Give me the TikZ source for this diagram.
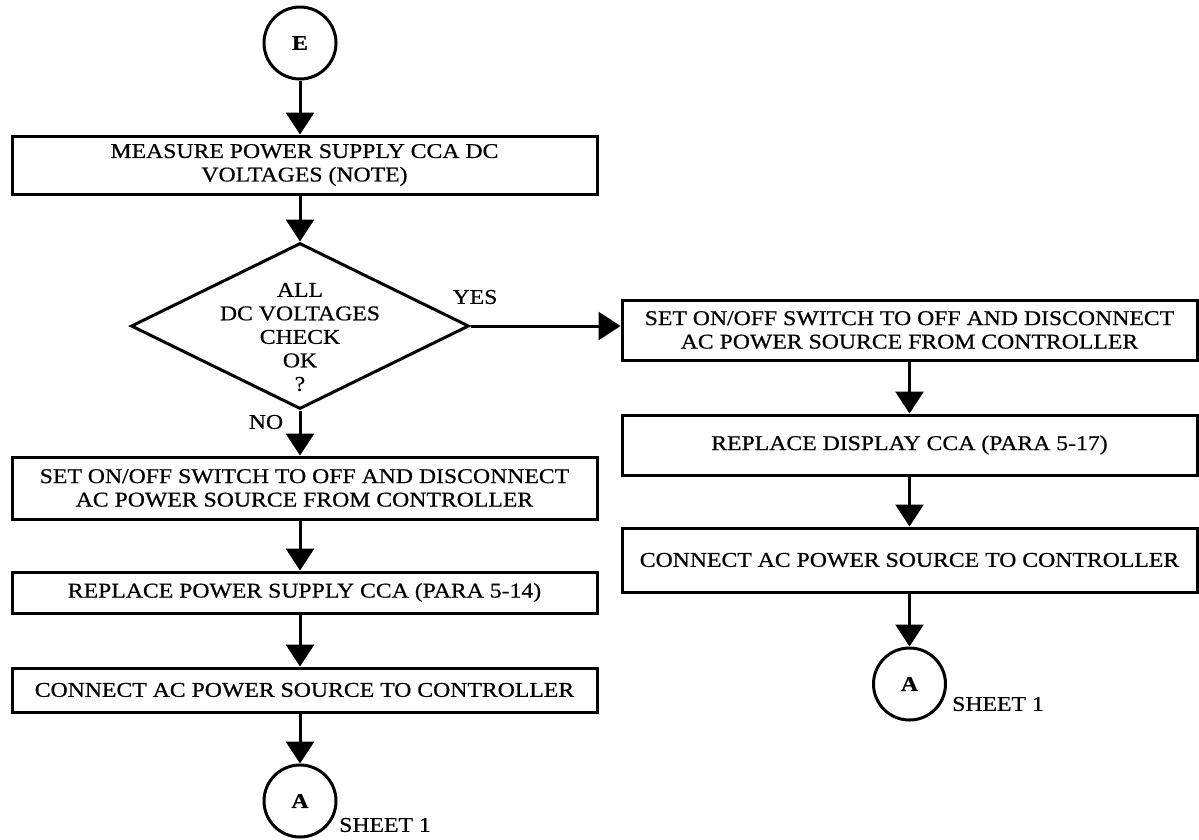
\documentclass[tikz,border=0pt]{standalone}
\usepackage{fontspec}
\setmainfont{Liberation Serif}[FakeStretch=1.13, FakeBold=0.6]
\usetikzlibrary{arrows.meta,shapes.geometric}

\begin{document}
\begin{tikzpicture}[x=1pt,y=-1pt,
  txt/.style={font=\fontsize{21}{23.5}\selectfont},
  stepbox/.style={txt, draw, line width=3pt, rectangle, inner sep=0pt, align=center},
  leftbox/.style={stepbox, minimum width=585pt},
  rightbox/.style={stepbox, minimum width=575pt},
  decision/.style={draw, diamond, line width=3pt, inner sep=0pt,
    minimum width=338pt, minimum height=166pt},
  conn/.style={circle, draw, line width=3pt, minimum size=72pt, inner sep=0pt,
    font=\fontsize{21}{23}\selectfont\bfseries},
  arr/.style={line width=3pt, -{Triangle[length=22pt,width=28pt]}},
  lbl/.style={txt, inner sep=0pt},
]
\useasboundingbox (0,0) rectangle (1199,839);

% entry connector
\node[conn] (E) at (300,43) {E};

% left branch
\node[leftbox, minimum height=58pt] (measure) at (304.5,165)
  {MEASURE POWER SUPPLY CCA DC\\VOLTAGES (NOTE)};
\node[decision] (dec) at (300,326) {};
\node[txt, align=center, inner sep=0pt] (dectext) at (300,337)
  {ALL\\DC VOLTAGES\\CHECK\\OK\\?};
\node[leftbox, minimum height=62pt] (offL) at (304.5,488)
  {SET ON/OFF SWITCH TO OFF AND DISCONNECT\\AC POWER SOURCE FROM CONTROLLER};
\node[leftbox, minimum height=41pt] (replPS) at (304.5,592.5)
  {REPLACE POWER SUPPLY CCA (PARA 5-14)};
\node[leftbox, minimum height=44pt] (connL) at (304.5,690)
  {CONNECT AC POWER SOURCE TO CONTROLLER};
\node[conn] (AL) at (300,801) {A};
\node[lbl, anchor=west] (sheetL) at (339,825) {SHEET 1};

% right branch
\node[rightbox, minimum height=60pt] (offR) at (909.5,330)
  {SET ON/OFF SWITCH TO OFF AND DISCONNECT\\AC POWER SOURCE FROM CONTROLLER};
\node[rightbox, minimum height=60pt] (replD) at (909.5,445)
  {REPLACE DISPLAY CCA (PARA 5-17)};
\node[rightbox, minimum height=64pt] (connR) at (909.5,560)
  {CONNECT AC POWER SOURCE TO CONTROLLER};
\node[conn] (AR) at (909.5,684) {A};
\node[lbl, anchor=west] (sheetR) at (952,704) {SHEET 1};

% branch labels
\node[lbl] (yes) at (475,297) {YES};
\node[lbl] (no) at (266,422) {NO};

% connectors
\draw[arr] (E) -- (E |- measure.north);
\draw[arr] (measure.south -| E) -- (dec.north);
\draw[arr] (dec.south) -- (dec.south |- offL.north);
\draw[arr] (offL.south -| E) -- (E |- replPS.north);
\draw[arr] (replPS.south -| E) -- (E |- connL.north);
\draw[arr] (connL.south -| E) -- (AL);
\draw[arr] (dec.east) -- (dec.east -| offR.west);
\draw[arr] (offR) -- (replD);
\draw[arr] (replD) -- (connR);
\draw[arr] (connR) -- (AR);
\end{tikzpicture}
\end{document}
